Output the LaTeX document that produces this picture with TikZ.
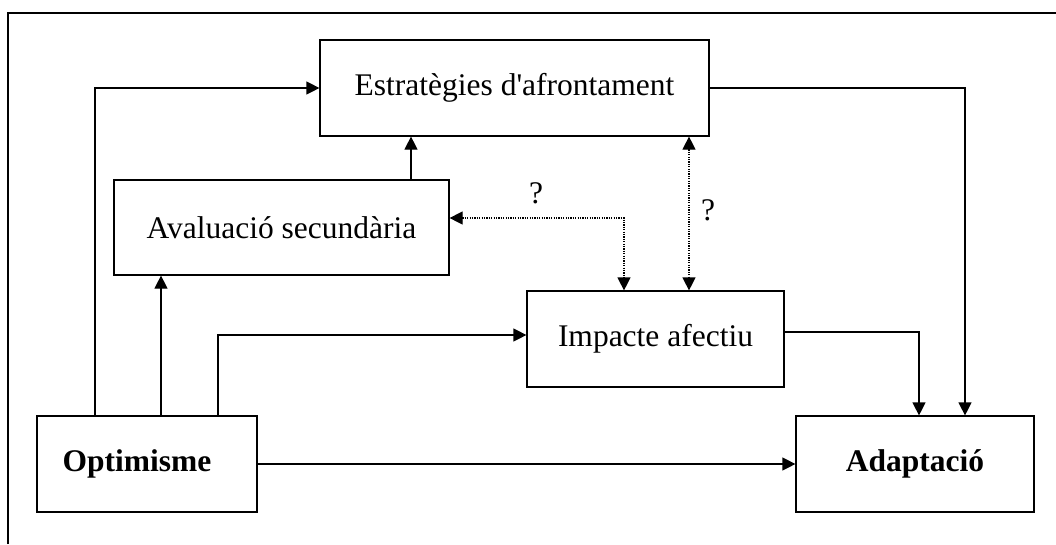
\documentclass[tikz,border=0pt]{standalone}
\usepackage{fontspec}
\setmainfont{Liberation Serif}
\usetikzlibrary{arrows.meta}
\begin{document}
\begin{tikzpicture}[x=1pt,y=-1pt,
  box/.style={draw,line width=1.2pt,inner sep=0pt,font=\fontsize{31.5}{36}\selectfont},
  conn/.style={line width=1.2pt},
  arr/.style={conn,-{Triangle[length=13pt,width=13pt]}},
  dotarr/.style={line width=1.2pt,dash pattern=on 1.2pt off 1.2pt,{Triangle[length=13pt,width=13pt]}-{Triangle[length=13pt,width=13pt]}},
  qm/.style={font=\fontsize{31.5}{36}\selectfont}]
\useasboundingbox (0,0) rectangle (1056,544);
\draw[line width=1.2pt] (8,544) -- (8,13) -- (1056,13);
\node[box,minimum width=389pt,minimum height=96pt] (estr) at (514.5,88) {Estratègies d\textquotesingle afrontament};
\node[box,minimum width=335pt,minimum height=95pt] (aval) at (281.5,227.5) {Avaluació secundària};
\node[box,minimum width=257pt,minimum height=96pt] (imp) at (655.5,339) {Impacte afectiu};
\node[box,minimum width=220pt,minimum height=96pt] (opt) at (147,464) {};
\node[font=\fontsize{31.5}{36}\selectfont\bfseries] (optt) at (137,464) {Optimisme};
\node[box,minimum width=238pt,minimum height=96pt,font=\fontsize{31.5}{36}\selectfont\bfseries] (adap) at (915,464) {Adaptació};
\draw[arr] ([xshift=-52pt]opt.north) |- (estr.west);
\draw[arr] ([xshift=14pt]opt.north) -- ([xshift=14pt]opt.north |- aval.south);
\draw[arr] ([xshift=71pt]opt.north) |- ([yshift=4pt]imp.west);
\draw[arr] ([xshift=129.5pt]aval.north) -- ([xshift=129.5pt]aval.north |- estr.south);
\draw[dotarr] ([yshift=9.5pt]aval.east) -| ([xshift=-31.5pt]imp.north);
\draw[dotarr] ([xshift=174.5pt]estr.south) -- ([xshift=174.5pt]estr.south |- imp.north);
\draw[arr] (estr.east) -| ([xshift=50pt]adap.north);
\draw[arr] ([yshift=7pt]imp.east) -| ([xshift=4pt]adap.north);
\draw[arr] (opt.east) -- (adap.west);
\node[qm] (q1) at (536,193) {?};
\node[qm] (q2) at (708,210) {?};
\end{tikzpicture}
\end{document}
